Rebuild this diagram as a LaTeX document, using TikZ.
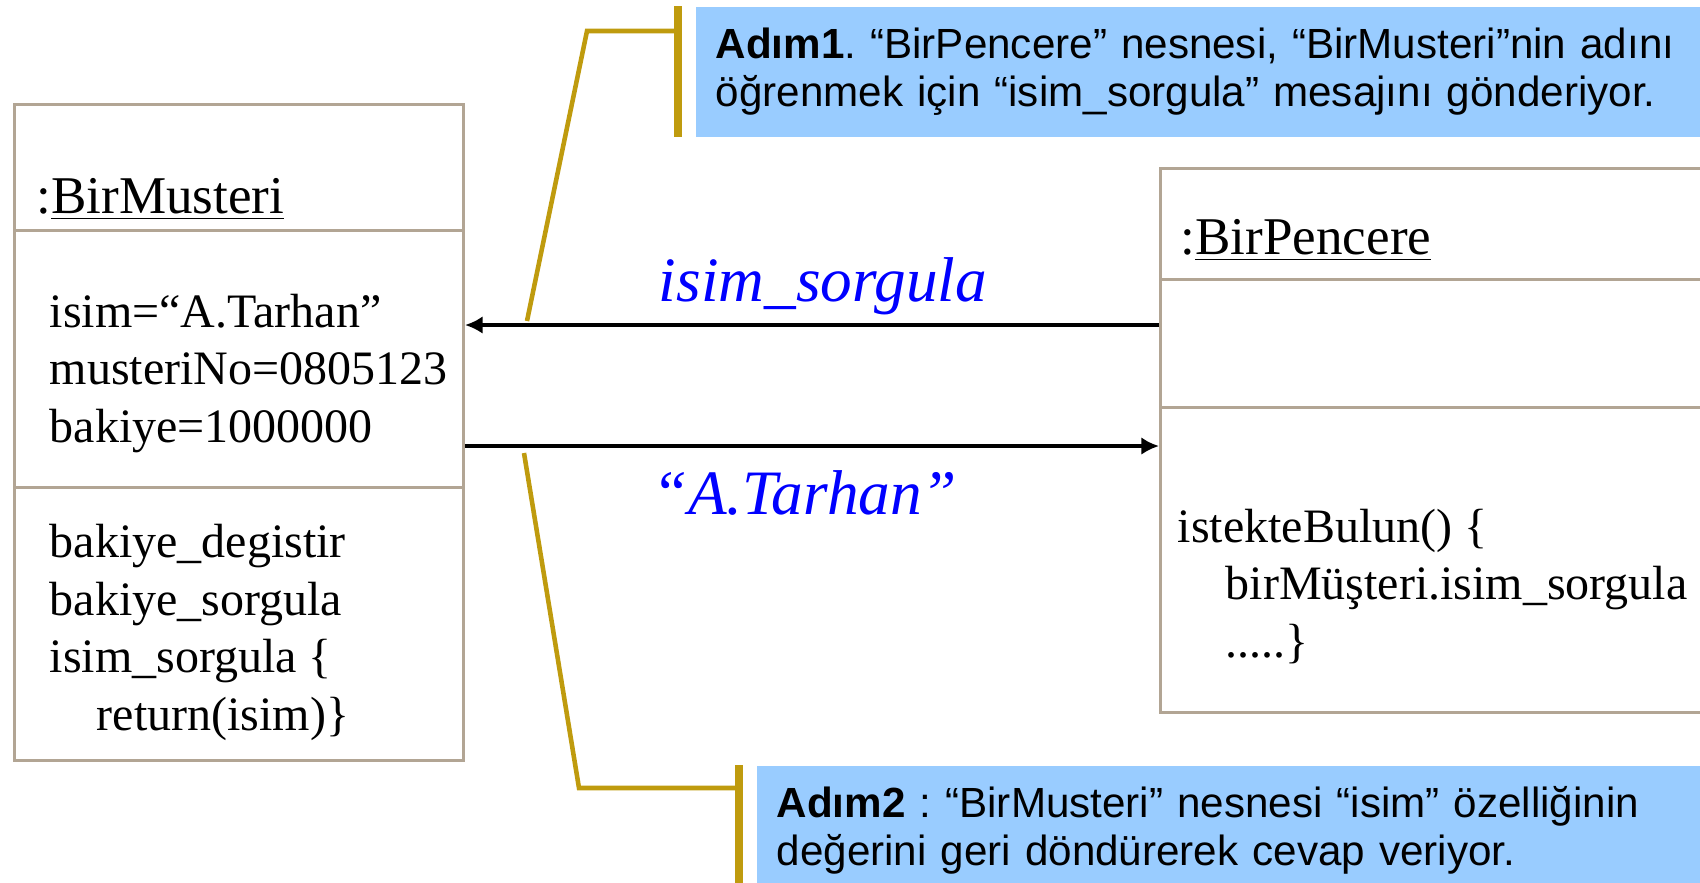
\documentclass[tikz,border=0pt]{standalone}
\usepackage{fontspec}
\setmainfont{Liberation Serif}
\newfontfamily\notfont{Liberation Sans}
\usetikzlibrary{arrows.meta}
\frenchspacing

\definecolor{kenar}{RGB}{178,165,148}
\definecolor{altin}{RGB}{191,155,14}
\definecolor{notmavi}{RGB}{153,204,255}

\begin{document}
\begin{tikzpicture}[>={Latex[length=5pt,width=5pt]},
        objbox/.style={draw=kenar, line width=0.85pt, inner sep=0pt},
        bolme/.style={draw=kenar, line width=0.85pt},
        mesaj/.style={line width=1.3pt},
        baslik/.style={inner sep=0pt, font=\fontsize{15.1}{18}\selectfont},
        satir/.style={inner sep=0pt, align=left, font=\fontsize{13.66}{16.36}\selectfont},
        etiket/.style={inner sep=0pt, text=blue, font=\fontsize{18}{20}\selectfont\itshape},
        notkutu/.style={fill=notmavi, align=left, text width=10.4cm, inner xsep=0.2cm, inner ysep=0pt,
            minimum height=1.3cm, font=\notfont\fontsize{12}{13.66}\selectfont},
        kol/.style={draw=altin, line width=1.3pt},
        cubuk/.style={draw=altin, line width=2pt}]
            % 画布范围
            \useasboundingbox (0,0) rectangle (17,-8.82);
            \clip (0,0) rectangle (17,-8.82);

            % 定义点
            \coordinate (m1) at (0,-3.25);
            \coordinate (m2) at (0,-4.46);
            \coordinate (k1) at (5.87,-0.31);
            \coordinate (u1) at (5.27,-3.21);
            \coordinate (k2) at (5.79,-7.88);
            \coordinate (u2) at (5.24,-4.53);

            % 对象框 BirMusteri（多行文字以末行基线定位）
            \node[objbox, anchor=north west, minimum width=4.49cm, minimum height=6.56cm] (musteri) at (0.13,-1.03) {};
            \draw[bolme] (musteri.west |- 0,-2.30) -- (musteri.east |- 0,-2.30);
            \draw[bolme] (musteri.west |- 0,-4.87) -- (musteri.east |- 0,-4.87);
            \node[baslik, anchor=base west] (mbaslik) at (0.36,-2.13) {:\underline{BirMusteri}};
            \node[satir, anchor=base west] (mozellik) at (0.49,-4.42)
                {isim=“A.Tarhan”\\musteriNo=0805123\\bakiye=1000000};
            \node[satir, anchor=base west] (mislem) at (0.49,-7.30)
                {bakiye\_degistir\\bakiye\_sorgula\\isim\_sorgula \{\\\hspace*{0.47cm}return(isim)\}};

            % 对象框 BirPencere
            \node[objbox, anchor=north west, minimum width=6cm, minimum height=5.44cm] (pencere) at (11.59,-1.67) {};
            \draw[bolme] (pencere.west |- 0,-2.79) -- (pencere.east |- 0,-2.79);
            \draw[bolme] (pencere.west |- 0,-4.07) -- (pencere.east |- 0,-4.07);
            \node[baslik, anchor=base west] (pbaslik) at (11.80,-2.54) {:\underline{BirPencere}};
            \node[satir, anchor=base west] (pislem) at (11.77,-6.57)
                {istekteBulun() \{\\\hspace*{0.48cm}birMüşteri.isim\_sorgula\\\hspace*{0.48cm}.....\}};

            % 消息箭头
            \draw[mesaj, ->] (pencere.west |- m1) -- (musteri.east |- m1);
            \draw[mesaj, ->] (musteri.east |- m2) -- (pencere.west |- m2);
            \node[etiket, anchor=base] (sorgu) at (8.23,-3.01) {isim\_sorgula};
            \node[etiket, anchor=base] (cevap) at (8.05,-5.14) {“A.Tarhan”};

            % 说明框
            \node[notkutu, anchor=north west] (adim1) at (6.95,-0.06)
                {\textbf{Adım1}. “BirPencere” nesnesi, “BirMusteri”nin adını\\öğrenmek için “isim\_sorgula” mesajını gönderiyor.};
            \node[notkutu, anchor=north west] (adim2) at (7.56,-7.65)
                {\textbf{Adım2} : “BirMusteri” nesnesi “isim” özelliğinin\\değerini geri döndürerek cevap veriyor.};

            % 引线
            \draw[cubuk] ([xshift=-0.17cm]adim1.north west) -- ([xshift=-0.17cm]adim1.south west);
            \draw[cubuk] ([xshift=-0.17cm]adim2.north west) -- ([xshift=-0.17cm]adim2.south west);
            \draw[kol] ([shift={(-0.17,-0.25)}]adim1.north west) -- (k1) -- (u1);
            \draw[kol] ([shift={(-0.17,-0.23)}]adim2.north west) -- (k2) -- (u2);
        \end{tikzpicture}
\end{document}
